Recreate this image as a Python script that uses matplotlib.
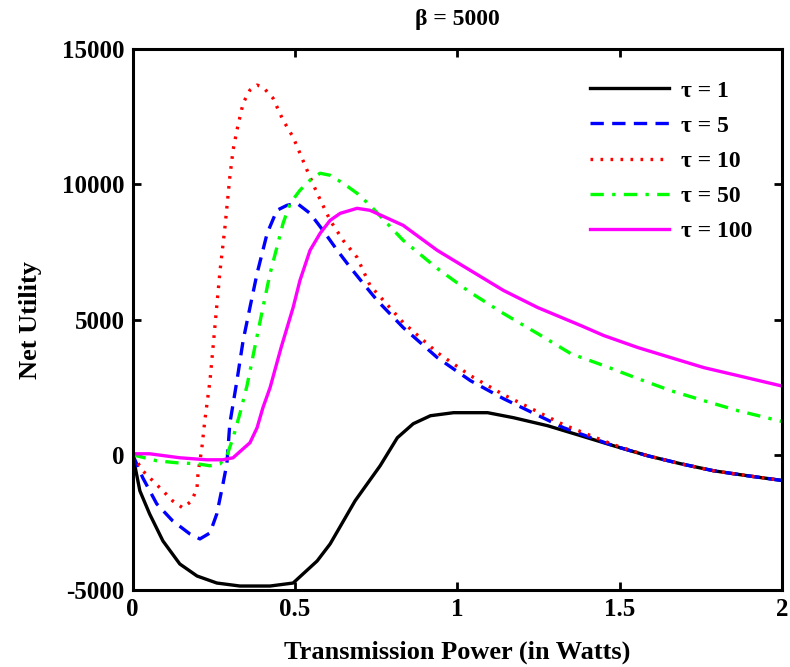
import numpy as np
import matplotlib.pyplot as plt

# Values (x in Watts, y = net utility)
tau1_x = [0, 0.022, 0.052, 0.093, 0.145, 0.198, 0.259, 0.330, 0.423, 0.494, 0.568, 0.608,
          0.685, 0.762, 0.815, 0.864, 0.917, 0.988, 1.093, 1.173, 1.278, 1.380, 1.481,
          1.586, 1.688, 1.790, 1.895, 2.0]
tau1_y = [0, -1333, -2185, -3185, -4037, -4481, -4741, -4852, -4852, -4741, -3926, -3296,
          -1700, -407, 630, 1148, 1444, 1556, 1556, 1370, 1074, 704, 333,
          -37, -333, -593, -778, -950]

tau5_x = [0, 0.031, 0.074, 0.123, 0.176, 0.207, 0.238, 0.259, 0.278, 0.290, 0.299, 0.321,
          0.340, 0.361, 0.383, 0.414, 0.444, 0.475, 0.506, 0.546, 0.586, 0.630, 0.670,
          0.710, 0.753, 0.833, 0.938, 1.040, 1.142, 1.327, 1.481, 1.586, 1.688, 1.790,
          1.895, 2.0]
tau5_y = [0, -852, -1815, -2444, -2926, -3111, -2889, -2185, -1074, -333, 1148, 2741,
          4222, 5444, 6704, 8185, 9037, 9222, 9296, 8926, 8296, 7556, 6926,
          6333, 5704, 4704, 3593, 2741, 2074, 1000, 333, -37, -333, -593,
          -778, -950]

tau10_x = [0, 0.031, 0.062, 0.093, 0.123, 0.154, 0.182, 0.198, 0.201, 0.213, 0.222, 0.238,
           0.259, 0.269, 0.284, 0.299, 0.309, 0.321, 0.340, 0.361, 0.383, 0.401, 0.432,
           0.463, 0.494, 0.515, 0.537, 0.568, 0.608, 0.648, 0.691, 0.731, 0.833, 0.938,
           1.040, 1.142, 1.327, 1.481, 1.586, 1.688, 1.790, 1.895, 2.0]
tau10_y = [0, -593, -963, -1333, -1704, -1963, -1704, -1222, -704, 259, 1259, 2741,
           5519, 6815, 8407, 10259, 11259, 12000, 13000, 13481, 13667, 13593, 13185,
           12370, 11741, 11148, 10519, 9667, 8667, 7926, 7296, 6259, 4889, 3778,
           2926, 2222, 1111, 370, -37, -333, -593, -778, -950]

tau50_x = [0, 0.012, 0.074, 0.136, 0.198, 0.238, 0.269, 0.290, 0.309, 0.330, 0.352, 0.377,
           0.401, 0.423, 0.444, 0.463, 0.485, 0.515, 0.546, 0.577, 0.608, 0.648, 0.691,
           0.731, 0.833, 0.938, 1.040, 1.142, 1.247, 1.349, 1.451, 1.556, 1.657, 1.759,
           1.864, 2.0]
tau50_y = [0, -37, -222, -296, -333, -407, -333, -37, 630, 1519, 2556, 4037,
           5444, 6704, 7667, 8556, 9296, 9778, 10148, 10407, 10333, 10037, 9667,
           9222, 7926, 6889, 6000, 5222, 4481, 3741, 3296, 2815, 2370, 2000,
           1630, 1230]

tau100_x = [0, 0.052, 0.145, 0.228, 0.278, 0.309, 0.340, 0.361, 0.383, 0.401, 0.423, 0.457,
            0.494, 0.515, 0.546, 0.577, 0.608, 0.639, 0.691, 0.731, 0.833, 0.938, 1.040,
            1.142, 1.247, 1.380, 1.451, 1.556, 1.657, 1.759, 1.864, 2.0]
tau100_y = [37, 37, -111, -185, -185, -111, 222, 444, 1000, 1741, 2481, 3963,
            5444, 6444, 7556, 8185, 8667, 8926, 9111, 9037, 8481, 7556, 6815,
            6074, 5444, 4778, 4407, 3963, 3593, 3222, 2926, 2540]

labels = ["τ = 1", "τ = 5", "τ = 10", "τ = 50", "τ = 100"]

plt.rcParams['font.family'] = ['Liberation Serif', 'DejaVu Serif']
plt.rcParams['font.weight'] = 'bold'
plt.rcParams['axes.unicode_minus'] = False

fig = plt.figure(figsize=(7.9, 6.67), dpi=100)
ax = fig.add_axes([0.168, 0.1154, 0.822, 0.8111])

lw = 2.4
ax.plot(tau1_x, tau1_y, color='black', lw=lw, label=labels[0])
ax.plot(tau5_x, tau5_y, color='blue', lw=lw, dashes=(4, 2.5), label=labels[1])
ax.plot(tau10_x, tau10_y, color='red', lw=lw, dashes=(0.8, 2.2), label=labels[2])
ax.plot(tau50_x, tau50_y, color='#00ff00', lw=lw, dashes=(4, 2.5, 1, 2.5), label=labels[3])
ax.plot(tau100_x, tau100_y, color='magenta', lw=lw, label=labels[4])

ax.set_xlim(0, 2)
ax.set_ylim(-5000, 15000)
ax.set_xticks([0, 0.5, 1, 1.5, 2])
ax.set_xticklabels(["0", "0.5", "1", "1.5", "2"])
ax.set_yticks([-5000, 0, 5000, 10000, 15000])

ax.tick_params(direction='in', length=6, width=2, top=True, right=True,
               labelsize=18, pad=6)
for lab in ax.get_xticklabels() + ax.get_yticklabels():
    lab.set_fontweight('bold')
for sp in ax.spines.values():
    sp.set_linewidth(2.2)

ax.set_xlabel("Transmission Power (in Watts)", fontsize=19, fontweight='bold', labelpad=14)
ax.set_ylabel("Net Utility", fontsize=19, fontweight='bold', labelpad=14)
ax.set_title("β = 5000", fontsize=17, fontweight='bold', pad=17)

leg = ax.legend(loc='upper left', bbox_to_anchor=(0.672, 0.982), frameon=False,
                fontsize=17, handlelength=3.35, labelspacing=0.58, handletextpad=0.47)
for t in leg.get_texts():
    t.set_fontweight('bold')

fig.savefig("out.png", dpi=100)
